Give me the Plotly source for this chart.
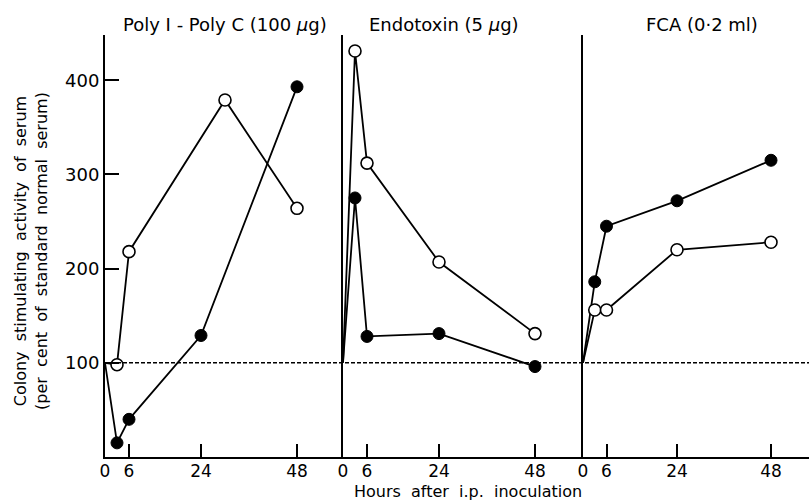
import plotly.graph_objects as go

# ---- data ----
panel_titles = ["Poly I - Poly C (100 <i>μ</i>g)", "Endotoxin (5 <i>μ</i>g)", "FCA (0·2 ml)"]

poly_open_h = [0, 3, 6, 30, 48]
poly_open_v = [100, 98, 218, 379, 264]
poly_filled_h = [0, 3, 6, 24, 48]
poly_filled_v = [100, 15, 40, 129, 393]

endo_open_h = [0, 3, 6, 24, 48]
endo_open_v = [100, 431, 312, 207, 131]
endo_filled_h = [0, 3, 6, 24, 48]
endo_filled_v = [100, 275, 128, 131, 96]

fca_open_h = [0, 3, 6, 24, 48]
fca_open_v = [100, 156, 156, 220, 228]
fca_filled_h = [0, 3, 6, 24, 48]
fca_filled_v = [100, 186, 245, 272, 315]

baseline = 100
x_ticks = [0, 6, 24, 48]
y_ticks = [100, 200, 300, 400]
x_ranges = [[0, 59.5], [0, 60], [0, 57.7]]
y_range = [0, 448]

FONT = "DejaVu Sans"
W, H = 809, 501
ML, MR, MT, MB = 105, 0, 35, 44
PW = W - ML - MR
PH = H - MT - MB
bounds_px = [105, 343, 583, 809]
domains = [[(bounds_px[i] - ML) / PW, (bounds_px[i + 1] - ML) / PW] for i in range(3)]

fig = go.Figure()

series = [
    (poly_open_h, poly_open_v, poly_filled_h, poly_filled_v),
    (endo_open_h, endo_open_v, endo_filled_h, endo_filled_v),
    (fca_open_h, fca_open_v, fca_filled_h, fca_filled_v),
]

for i, (oh, ov, fh, fv) in enumerate(series):
    xa = "x" if i == 0 else f"x{i+1}"
    ya = "y" if i == 0 else f"y{i+1}"
    # filled circles
    fig.add_trace(go.Scatter(
        x=fh, y=fv, xaxis=xa, yaxis=ya, mode="lines+markers",
        line=dict(color="black", width=1.8),
        marker=dict(size=[0] + [12] * (len(fh) - 1), color="black", opacity=1,
                    line=dict(color="black", width=1)),
        showlegend=False, cliponaxis=False))
    # open circles
    fig.add_trace(go.Scatter(
        x=oh, y=ov, xaxis=xa, yaxis=ya, mode="lines+markers",
        line=dict(color="black", width=1.8),
        marker=dict(size=[0] + [12] * (len(oh) - 1), color="white", opacity=1,
                    line=dict(color="black", width=1.6)),
        showlegend=False, cliponaxis=False))

axis_font = dict(family=FONT, size=17, color="black")
layout = dict(
    width=W, height=H,
    margin=dict(l=ML, r=MR, t=MT, b=MB),
    paper_bgcolor="white", plot_bgcolor="white",
    font=dict(family=FONT, color="black"),
    showlegend=False,
)
for i in range(3):
    kx = "xaxis" if i == 0 else f"xaxis{i+1}"
    ky = "yaxis" if i == 0 else f"yaxis{i+1}"
    ya = "y" if i == 0 else f"y{i+1}"
    xa = "x" if i == 0 else f"x{i+1}"
    layout[kx] = dict(
        domain=domains[i], range=x_ranges[i], anchor=ya,
        tickvals=x_ticks, ticktext=[str(t) for t in x_ticks],
        ticks="inside", ticklen=13, tickwidth=1.5, tickcolor="black",
        showline=True, linecolor="black", linewidth=2,
        showgrid=False, zeroline=False, tickfont=axis_font,
        ticklabelstandoff=-2,
    )
    layout[ky] = dict(
        domain=[0, 1], range=y_range, anchor=xa,
        showline=True, linecolor="black", linewidth=2,
        showgrid=False, zeroline=False,
    )
    if i == 0:
        layout[ky].update(tickvals=y_ticks, ticks="inside", ticklen=14,
                          tickwidth=1.5, tickcolor="black",
                          tickfont=dict(family=FONT, size=18, color="black"))
    else:
        layout[ky].update(matches="y", showticklabels=False, ticks="")

fig.update_layout(**layout)

# dashed reference line at 100%
fig.add_shape(type="line", xref="paper", yref="y", x0=0, x1=1,
              y0=baseline, y1=baseline,
              line=dict(color="black", width=1.4, dash="4px,2px"))

# panel titles
title_centers_px = [225, 444, 702]
for t, cx in zip(panel_titles, title_centers_px):
    fig.add_annotation(text=t, xref="paper", yref="paper",
                       x=(cx - ML) / PW, y=(H - MB - 24) / PH,
                       xanchor="center", yanchor="middle", showarrow=False,
                       font=dict(family=FONT, size=18, color="black"))

# axis titles
fig.add_annotation(text="Hours  after  i.p.  inoculation", xref="paper", yref="paper",
                   x=(468 - ML) / PW, y=(H - MB - 491) / PH,
                   xanchor="center", yanchor="middle", showarrow=False,
                   font=dict(family=FONT, size=16, color="black"))
fig.add_annotation(text="Colony  stimulating  activity  of  serum<br>(per  cent  of  standard  normal  serum)",
                   xref="paper", yref="paper",
                   x=(31 - ML) / PW, y=(H - MB - 251) / PH,
                   xanchor="center", yanchor="middle", showarrow=False,
                   textangle=-90,
                   font=dict(family=FONT, size=16, color="black"))

fig.write_html("out.html")
